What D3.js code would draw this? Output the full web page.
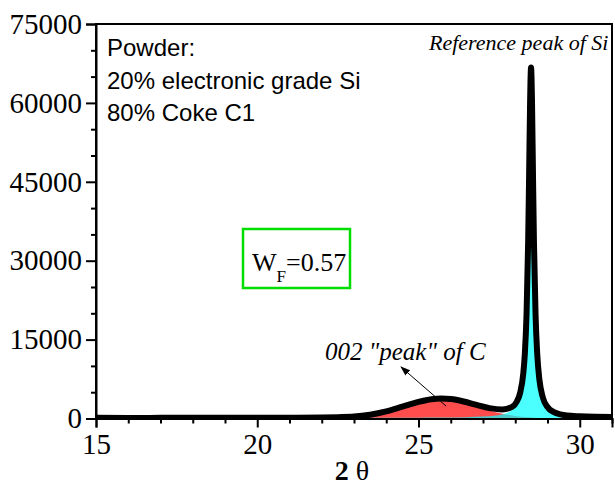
<!DOCTYPE html>
<html>
<head>
<meta charset="utf-8">
<script src="https://cdn.jsdelivr.net/npm/d3@7"></script>
<style>
  html, body { margin: 0; padding: 0; background: #fff; }
  svg { display: block; }
</style>
</head>
<body>
<svg id="chart" width="615" height="493"></svg>
<script>
// Measured diffraction pattern (2θ, counts)
const patternTheta = [15, 16, 17, 18, 19, 20, 21, 22, 22.5, 23.0, 23.5, 24.0, 24.5, 25.0, 25.4, 25.7, 26.0, 26.4, 26.8, 27.2, 27.6, 27.9,
  28.05, 28.15, 28.25, 28.3, 28.35, 28.4, 28.43, 28.46, 28.49, 28.52, 28.55, 28.58, 28.63, 28.68, 28.75, 28.85,
  29.0, 29.2, 29.4, 29.6, 30.0, 30.5, 31.0];
const patternCounts = [120, 110, 120, 130, 130, 140, 160, 200, 260, 366, 719, 1354, 2242, 3155, 3657, 3789, 3688, 3234, 2586, 1980, 1712, 2206,
  3234, 4841, 8615, 12568, 19790, 33548, 46318, 60082, 66710, 60058, 46270, 33477, 19676, 12414, 7332, 4114,
  2186, 1205, 783, 565, 420, 330, 290];

// Fitted 002 band of carbon
const carbonTheta = [22.9, 23.0, 23.5, 24.0, 24.5, 25.0, 25.4, 25.7, 26.0, 26.4, 26.8, 27.2, 27.6, 28.0, 28.4, 28.8, 29.2, 29.6];
const carbonFit = [186, 228, 577, 1207, 2088, 2991, 3481, 3600, 3481, 2991, 2278, 1538, 920, 488, 228, 96, 35, 11];

// Fitted reference peak of Si
const siTheta = [23.0, 23.5, 24.0, 24.5, 25.0, 25.5, 26.0, 26.5, 27.0, 27.4, 27.7, 27.9, 28.05, 28.15, 28.25, 28.3, 28.35, 28.4,
  28.43, 28.46, 28.49, 28.52, 28.55, 28.58, 28.63, 28.68, 28.75, 28.85, 29.0, 29.2, 29.4, 29.6];
const siFit = [138, 142, 147, 154, 164, 180, 207, 256, 361, 570, 971, 1629, 2787, 4468, 8307, 12288, 19535, 33320,
  46103, 59880, 66520, 59880, 46103, 33320, 19535, 12288, 7224, 4026, 2126, 1170, 763, 554];

// Axis ticks
const xMajorTicks = [15, 20, 25, 30];
const xMinorTicks = [16, 17, 18, 19, 21, 22, 23, 24, 26, 27, 28, 29, 31];
const yMajorTicks = [0, 15000, 30000, 45000, 60000, 75000];
const yMinorTicks = [5000, 10000, 20000, 25000, 35000, 40000, 50000, 55000, 65000, 70000];

const infoLines = ["Powder:", "20% electronic grade Si", "80% Coke C1"];

const svg = d3.select("#chart");
const plotLeft = 96, plotRight = 612, plotTop = 24, plotBottom = 418.5;

const x = d3.scaleLinear().domain([15, 31]).range([plotLeft, plotRight]);
const y = d3.scaleLinear().domain([0, 75000]).range([plotBottom, plotTop]);

const defs = svg.append("defs");
defs.append("clipPath").attr("id", "plotClip")
  .append("rect").attr("x", plotLeft).attr("y", plotTop - 10)
  .attr("width", plotRight - plotLeft).attr("height", plotBottom - plotTop + 10);

const plot = svg.append("g").attr("clip-path", "url(#plotClip)");

const area = d3.area()
  .x(d => x(d[0])).y0(y(0)).y1(d => y(d[1]))
  .curve(d3.curveMonotoneX);

plot.append("path")
  .datum(d3.zip(carbonTheta, carbonFit))
  .attr("d", area)
  .attr("fill", "rgb(255,0,0)")
  .attr("fill-opacity", 0.7);

plot.append("path")
  .datum(d3.zip(siTheta, siFit))
  .attr("d", area)
  .attr("fill", "rgb(0,255,255)")
  .attr("fill-opacity", 0.7);

const line = d3.line()
  .x(d => x(d[0])).y(d => y(d[1]))
  .curve(d3.curveMonotoneX);

plot.append("path")
  .datum(d3.zip(patternTheta, patternCounts))
  .attr("d", line)
  .attr("fill", "none")
  .attr("stroke", "#000")
  .attr("stroke-width", 6)
  .attr("stroke-linejoin", "round")
  .attr("stroke-linecap", "round");

// Frame
svg.append("path")
  .attr("d", `M${plotLeft},${plotBottom}V${plotTop}H${plotRight}V${plotBottom}`)
  .attr("fill", "none").attr("stroke", "#000").attr("stroke-width", 2);

// Axes
const fontSerif = "'Liberation Serif', 'Times New Roman', serif";

const xAxis = svg.append("g").attr("transform", `translate(0,${plotBottom})`)
  .call(d3.axisBottom(x).tickValues(xMajorTicks).tickSize(9).tickPadding(6).tickFormat(d3.format("d")));
svg.append("g").attr("transform", `translate(0,${plotBottom})`)
  .call(d3.axisBottom(x).tickValues(xMinorTicks).tickSize(5).tickFormat(""))
  .select(".domain").remove();

const yAxis = svg.append("g").attr("transform", `translate(${plotLeft},0)`)
  .call(d3.axisLeft(y).tickValues(yMajorTicks).tickSize(10).tickPadding(4).tickFormat(d3.format("d")));
svg.append("g").attr("transform", `translate(${plotLeft},0)`)
  .call(d3.axisLeft(y).tickValues(yMinorTicks).tickSize(5).tickFormat(""))
  .select(".domain").remove();

svg.selectAll(".domain").attr("stroke-width", 2).attr("stroke", "#000");
svg.selectAll(".tick line").attr("stroke-width", 2).attr("stroke", "#000");
svg.selectAll(".tick text")
  .attr("font-family", fontSerif)
  .attr("font-size", 29)
  .attr("fill", "#000");
xAxis.selectAll(".tick text").attr("dy", "0.71em");

// Axis title
const xt = svg.append("text")
  .attr("x", 352).attr("y", 480)
  .attr("text-anchor", "middle")
  .attr("font-family", fontSerif)
  .attr("font-size", 28);
xt.append("tspan").attr("font-weight", "bold").text("2");
xt.append("tspan").text(" θ");

// Sample description
svg.append("g").selectAll("text")
  .data(infoLines)
  .join("text")
  .attr("x", 107)
  .attr("y", (d, i) => 56 + i * 32.5)
  .attr("font-family", "'Liberation Sans', Arial, sans-serif")
  .attr("font-size", 24)
  .attr("fill", "#000")
  .text(d => d);

// Peak labels
svg.append("text")
  .attr("x", 429).attr("y", 50)
  .attr("font-family", fontSerif)
  .attr("font-style", "italic")
  .attr("font-size", 22)
  .text("Reference peak of Si");

svg.append("text")
  .attr("x", 325).attr("y", 360)
  .attr("font-family", fontSerif)
  .attr("font-style", "italic")
  .attr("font-size", 25)
  .text("002 \"peak\" of C");

// Arrow pointing from the carbon band to its label
defs.append("marker")
  .attr("id", "arrowHead")
  .attr("viewBox", "0 0 10 10")
  .attr("refX", 9).attr("refY", 5)
  .attr("markerWidth", 10).attr("markerHeight", 10)
  .attr("markerUnits", "userSpaceOnUse")
  .attr("orient", "auto")
  .append("path").attr("d", "M0,1.5L10,5L0,8.5Z").attr("fill", "#000");

svg.append("line")
  .attr("x1", 446).attr("y1", 406)
  .attr("x2", 401).attr("y2", 367)
  .attr("stroke", "#000").attr("stroke-width", 1)
  .attr("marker-end", "url(#arrowHead)");

// Weight fraction box
svg.append("rect")
  .attr("x", 243).attr("y", 229)
  .attr("width", 107).attr("height", 59)
  .attr("fill", "none")
  .attr("stroke", "#00dd00")
  .attr("stroke-width", 2.5);

const wf = svg.append("text")
  .attr("x", 252).attr("y", 271)
  .attr("font-family", fontSerif)
  .attr("font-size", 26);
wf.append("tspan").text("W");
wf.append("tspan").attr("font-size", 17).attr("dy", 11).text("F");
wf.append("tspan").attr("dy", -11).text("=0.57");
</script>
</body>
</html>
